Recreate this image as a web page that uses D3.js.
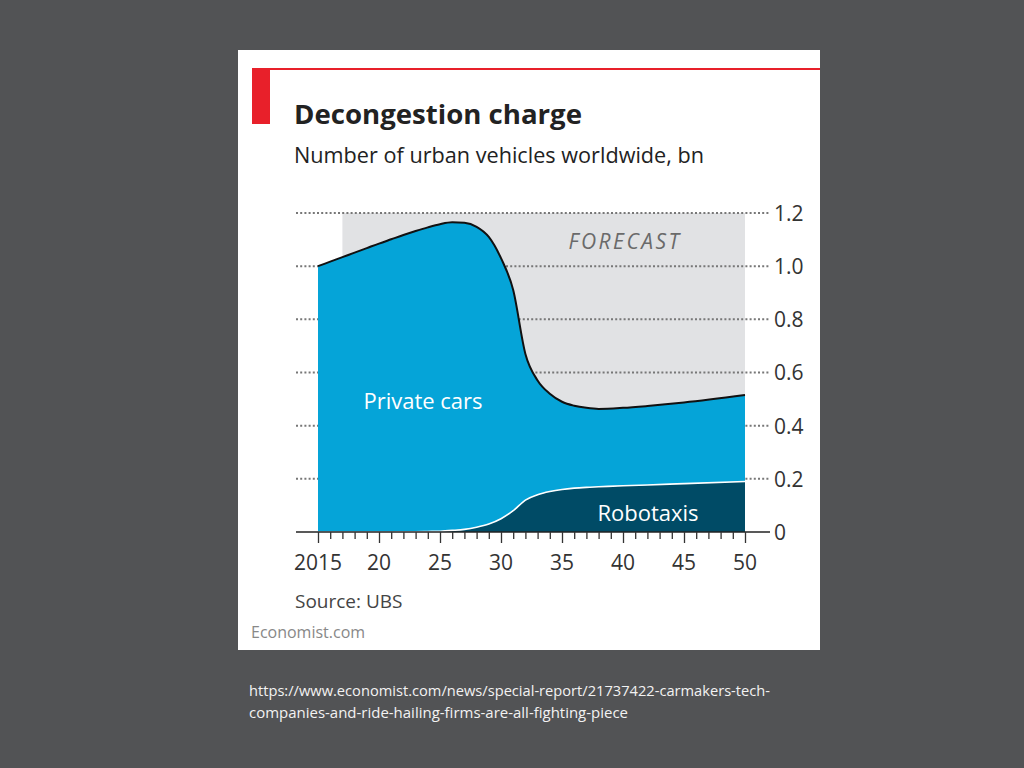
<!DOCTYPE html>
<html><head><meta charset="utf-8">
<script src="https://cdn.jsdelivr.net/npm/d3@7"></script>
<style>
html,body{margin:0;padding:0;background:#525355;}
svg{display:block;}
</style></head>
<body>
<svg id="c" width="1024" height="768"></svg>
<script>
// ---- data ----
const years = [2015,2016,2017,2018,2019,2020,2021,2022,2023,2024,2025,2026,2027,2028,2029,2030,2031,2032,2033,2034,2035,2036,2037,2038,2040,2042,2045,2050];
const privateCars = [1.0,1.017,1.034,1.051,1.068,1.085,1.101,1.116,1.131,1.144,1.155,1.159,1.153,1.13,1.08,0.98,0.83,0.55,0.43,0.368,0.33,0.31,0.299,0.293,0.293,0.297,0.305,0.325];
const robotaxis = [0,0,0,0,0,0,0,0.001,0.001,0.002,0.003,0.006,0.01,0.018,0.03,0.05,0.08,0.12,0.14,0.152,0.16,0.165,0.168,0.17,0.174,0.177,0.182,0.19];
const yTicks = [0,0.2,0.4,0.6,0.8,1.0,1.2];
const yTickLabels = ["0","0.2","0.4","0.6","0.8","1.0","1.2"];
const xMajor = [2015,2020,2025,2030,2035,2040,2045,2050];
const xMajorLabels = ["2015","20","25","30","35","40","45","50"];
const forecastStart = 2017;
const title = "Decongestion charge";
const subtitle = "Number of urban vehicles worldwide, bn";
const source = "Source: UBS";

const svg = d3.select("#c");
const F = "'Open Sans','Noto Sans',sans-serif";

// panel
svg.append("rect").attr("x",238).attr("y",50).attr("width",582).attr("height",600).attr("fill","#ffffff");
svg.append("rect").attr("x",252).attr("y",68).attr("width",568).attr("height",2).attr("fill","#e8202a");
svg.append("rect").attr("x",252).attr("y",68).attr("width",18).attr("height",56).attr("fill","#e8202a");

svg.append("text").attr("x",294).attr("y",124).text(title)
  .attr("font-family",F).attr("font-weight",700).attr("font-size",27).attr("fill","#222")
  .attr("textLength",288).attr("lengthAdjust","spacingAndGlyphs");
svg.append("text").attr("x",294).attr("y",163).text(subtitle)
  .attr("font-family",F).attr("font-size",22).attr("fill","#222")
  .attr("textLength",410).attr("lengthAdjust","spacingAndGlyphs");

// scales
const x = d3.scaleLinear().domain([2015,2050]).range([318,745]);
const y = d3.scaleLinear().domain([0,1.2]).range([532,213]);

// forecast background
svg.append("rect").attr("x",x(forecastStart)).attr("y",y(1.2))
  .attr("width",x(2050)-x(forecastStart)).attr("height",y(0)-y(1.2)).attr("fill","#e1e2e4");

// grid
const gridG = svg.append("g");
yTicks.filter(v=>v>0).forEach(v=>{
  gridG.append("line").attr("x1",296).attr("x2",770).attr("y1",y(v)).attr("y2",y(v))
    .attr("stroke","#777").attr("stroke-width",2).attr("stroke-dasharray","2,2.2");
});

// stacked areas
const data = years.map((yr,i)=>({year:yr, robotaxis:robotaxis[i], privateCars:privateCars[i]}));
const stack = d3.stack().keys(["robotaxis","privateCars"]);
const series = stack(data);
const curve = d3.curveMonotoneX;
const area = d3.area().x(d=>x(d.data.year)).y0(d=>y(d[0])).y1(d=>y(d[1])).curve(curve);
const line = d3.line().x(d=>x(d.data.year)).y(d=>y(d[1])).curve(curve);
const fills = {robotaxis:"#004b66", privateCars:"#05a4d8"};
series.forEach(s=>{
  svg.append("path").datum(s).attr("d",area).attr("fill",fills[s.key]);
});
svg.append("path").datum(series[0]).attr("d",line).attr("fill","none").attr("stroke","#ffffff").attr("stroke-width",1.6);
svg.append("path").datum(series[1]).attr("d",line).attr("fill","none").attr("stroke","#111").attr("stroke-width",2);

// x axis
const allYears = d3.range(2015,2051);
svg.append("line").attr("x1",296).attr("x2",770).attr("y1",y(0)).attr("y2",y(0)).attr("stroke","#222").attr("stroke-width",1.5);
const xAxis = d3.axisBottom(x).tickValues(allYears).tickSize(7).tickFormat("");
const xg = svg.append("g").attr("transform",`translate(0,${y(0)})`).call(xAxis);
xg.select(".domain").remove();
xg.selectAll(".tick line").attr("stroke","#333").attr("stroke-width",1.3)
  .attr("y2",d=>xMajor.includes(d)?11:7);
xMajor.forEach((v,i)=>{
  svg.append("text").attr("x",x(v)).attr("y",570).attr("text-anchor","middle")
    .text(xMajorLabels[i]).attr("font-family",F).attr("font-size",21).attr("fill","#333");
});

// y labels
const yAxis = d3.axisRight(y).tickValues(yTicks).tickSize(0).tickFormat((d,i)=>yTickLabels[i]);
const yg = svg.append("g").attr("transform","translate(774,0)").call(yAxis);
yg.select(".domain").remove();
yg.selectAll("text").attr("font-family",F).attr("font-size",21).attr("fill","#333").attr("dx",0).attr("x",0).attr("dy","0.35em");

// annotations
svg.append("text").attr("x",625).attr("y",249).attr("text-anchor","middle").text("FORECAST")
  .attr("font-family",F).attr("font-style","italic").attr("font-size",21).attr("fill","#6a6a6a").attr("letter-spacing",2.5);
svg.append("text").attr("x",423).attr("y",409).attr("text-anchor","middle").text("Private cars")
  .attr("font-family",F).attr("font-size",22).attr("fill","#fff");
svg.append("text").attr("x",648).attr("y",521).attr("text-anchor","middle").text("Robotaxis")
  .attr("font-family",F).attr("font-size",22).attr("fill","#fff");

svg.append("text").attr("x",295).attr("y",608).text(source)
  .attr("font-family",F).attr("font-size",19).attr("fill","#444");
svg.append("text").attr("x",251).attr("y",638).text("Economist.com")
  .attr("font-family",F).attr("font-size",16).attr("fill","#888");

// url
svg.append("text").attr("x",249).attr("y",696).text("https://www.economist.com/news/special-report/21737422-carmakers-tech-")
  .attr("font-family","'Open Sans',sans-serif").attr("font-size",15).attr("fill","#f2f2f2")
  .attr("textLength",521).attr("lengthAdjust","spacingAndGlyphs");
svg.append("text").attr("x",249).attr("y",718).text("companies-and-ride-hailing-firms-are-all-fighting-piece")
  .attr("font-family","'Open Sans',sans-serif").attr("font-size",15).attr("fill","#f2f2f2")
  .attr("textLength",379).attr("lengthAdjust","spacingAndGlyphs");
</script>
</body></html>
